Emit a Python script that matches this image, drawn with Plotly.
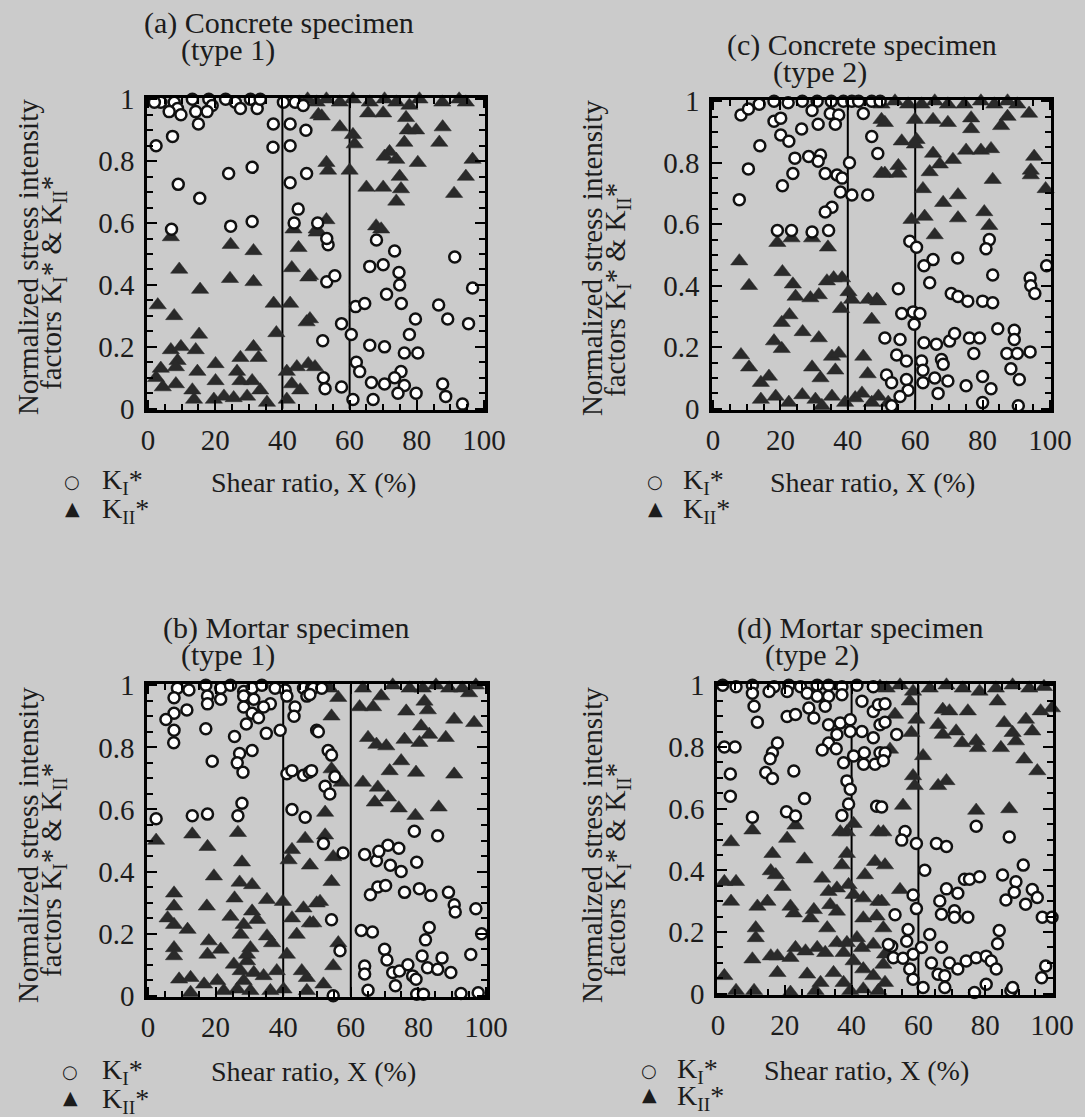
import plotly.graph_objects as go

W, H = 1085, 1117
SERIF = "Liberation Serif"
TXT = "#1c1c1c"
BG = "#cbcbcb"

# ---------------- data (x = shear ratio %, y = normalized SIF) ----------------
# (a) Concrete specimen (type 1)
a_KI = [(3.8,.99),(7.8,.99),(8.8,.97),(6.3,.96),(9.8,.95),(13.2,1.0),(14.2,.96),(18.1,1.0),(19.1,.98),(23.1,1.0),
        (26,.99),(27.5,.97),(30.5,1.0),(32.5,.97),(33.4,1.0),(40.3,.99),(43.8,.99),(46.2,.98),(1.9,.99),(17.6,.96),
        (7.3,.88),(2.4,.85),(15,.92),(24,.76),(31,.78),(9,.725),(15.4,.68),(7,.58),(24.6,.59),(31,.605),
        (37.3,.92),(37.2,.845),(42.3,.92),(42.3,.85),(47,.90),(42.3,.73),(47.2,.76),(44.7,.645),(43.5,.60),(50.5,.60),
        (53.6,.53),(53.2,.55),(53.2,.41),(55.6,.43),(68,.545),(73.4,.51),(66,.46),(70,.465),(74.7,.44),(74.9,.40),
        (71,.37),(75.4,.34),(61.8,.33),(64.5,.34),(57.6,.275),(60.5,.24),(52,.22),(79.6,.29),(77.8,.24),(86.5,.335),
        (89.2,.29),(95.4,.275),(96.6,.39),(91.3,.49),(66,.205),(70.4,.2),(76.3,.18),(80.3,.18),(52.2,.10),(52.7,.065),
        (57.6,.07),(62,.15),(63,.12),(66.5,.085),(70.4,.08),(75.3,.12),(76.3,.075),(74.4,.05),(79.8,.05),(67,.03),
        (61,.03),(87.7,.08),(88.6,.04),(93.6,.015),(73.4,.10)]
a_KII = [(6.8,.555),(9.3,.45),(15.5,.385),(2.9,.335),(7.8,.30),(24.6,.53),(31.4,.51),(24.4,.42),(31.4,.41),(37.4,.34),
         (42.3,.34),(38.2,.245),(47.2,.28),(15.2,.24),(6.8,.19),(9.8,.20),(14.2,.19),(8.8,.155),(3.8,.13),(8.3,.135),
         (14.7,.12),(20.1,.145),(27.5,.165),(31.4,.20),(32.9,.165),(26.5,.12),(2.4,.10),(8.3,.08),(4.4,.07),(13.2,.06),
         (20.1,.09),(27.5,.09),(31,.09),(41.3,.12),(44.3,.135),(47.7,.145),(42.8,.08),(45.3,.06),(13.7,.03),(19.6,.03),
         (22.6,.04),(25.5,.035),(29.5,.04),(33.4,.06),(35.4,.02),(41.3,.03),(43.3,.58),(50.2,.58),(44.8,.52),(42.8,.455),
         (47.7,.425),(50.7,.95),(45,.99),(47.5,1.0),
         (50.2,.99),(53.1,1.0),(57.1,.99),(61,1.0),(66,.99),(70.4,1.0),(73.9,.99),(77.8,.98),(80.8,1.0),(87.6,.99),
         (92.6,1.0),(94.6,.99),(51.7,.945),(57.1,.91),(65.5,.955),(70,.955),(61,.885),(61.5,.855),(76.8,.94),(77.3,.90),
         (76.3,.86),(79.8,.90),(71.9,.83),(73.9,.805),(70.4,.815),(80.3,.795),(87.7,.91),(86.7,.86),(53.1,.795),(53.6,.77),
         (60,.77),(65,.715),(70,.715),(74.9,.75),(75.3,.71),(73.9,.67),(91.1,.695),(94.6,.75),(96.6,.805),(53.1,.61),
         (50.2,.57),(67.9,.59),(69.4,.58),(49.7,.135),(48.2,.43),(48.2,.29)]

# (c) Concrete specimen (type 2)
c_KI = [(8.3,.955),(10.5,.975),(13.7,.99),(18.1,1.0),(22.3,.995),(26.5,1.0),(30.9,1.0),(35.1,1.0),(38.7,1.0),(41.2,1.0),
        (43.2,1.0),(47.1,1.0),(49.6,1.0),(18.1,.935),(20.1,.945),(29.4,.97),(34.8,.96),(37.3,.955),(36.3,.925),(31.2,.925),
        (26.3,.91),(44.6,.96),(20.1,.89),(22.5,.87),(13.9,.855),(47.1,.885),(48.9,.83),(10.5,.78),(7.8,.68),(24.3,.815),
        (28.4,.82),(31.9,.825),(31.2,.805),(23.7,.765),(20.6,.725),(33.3,.765),(36.8,.76),(38.3,.75),(40.5,.8),(37.8,.705),
        (41.2,.695),(45.9,.695),(35.3,.655),(33.3,.64),(19.1,.58),(23.3,.58),(29.4,.575),(34.3,.58),
        (58.4,.545),(60.4,.525),(65.3,.485),(62.6,.465),(64.3,.41),(72.6,.49),(82,.55),(81,.52),(83,.435),(55,.39),
        (70.7,.375),(72.7,.365),(75.6,.35),(80,.35),(83,.345),(94.1,.425),(94.3,.40),(95.5,.375),(99,.465),(56,.31),
        (59.4,.315),(61.4,.31),(59.7,.275),(51,.23),(55.5,.225),(62.6,.215),(66.3,.21),(70.2,.22),(71.7,.245),(76.1,.23),
        (79.1,.23),(84.5,.26),(89.4,.255),(89.4,.225),(87.2,.18),(90.3,.18),(94.1,.185),(77.4,.18),(54.5,.175),(57.4,.155),
        (61.9,.155),(67.8,.16),(68.3,.145),(88.4,.13),(90.9,.095),(51.5,.11),(53,.085),(57.4,.095),(62.3,.125),(65.8,.10),
        (69.7,.09),(62.3,.085),(80,.105),(75.1,.075),(82.5,.065),(57.9,.06),(66.8,.05),(55.5,.04),(53,.01),(80,.02),(90.6,.01)]
c_KII = [(19.1,.54),(23.3,.555),(29.4,.555),(34.1,.525),(7.8,.48),(20.6,.445),(10.7,.40),(23.7,.405),(24.5,.365),(28.9,.36),
         (31.4,.37),(33.8,.415),(35.8,.425),(38.3,.425),(40.2,.38),(41.2,.355),(38,.325),(22.7,.305),(20.4,.28),(26.6,.25),
         (31.4,.23),(18.1,.22),(20.4,.195),(8.3,.175),(10.7,.135),(16.6,.105),(14.2,.085),(29.4,.135),(31.9,.10),(35.3,.17),
         (37.3,.18),(36.3,.125),(47.1,.29),(46.1,.355),(48.6,.355),(44.6,.17),(45.9,.113),
         (14.2,.03),(18.6,.04),(22.5,.02),(26.5,.045),(30.4,.03),(32.3,.01),(35.3,.04),(39.2,.02),(42.2,.035),(44.2,.05),
         (47.1,.02),(49.1,.04),(52,.02),(50,.94),(50,.765),
         (50,.99),(54,1.0),(57.9,.99),(61.9,.99),(65.8,1.0),(69.7,.99),(74.6,.99),(79.5,1.0),(83.5,.99),(87.4,1.0),(90.3,.99),
         (51,.93),(59.9,.94),(65.3,.94),(69.7,.93),(76.6,.945),(76.6,.91),(85.5,.92),(87.4,.95),(93.8,.96),(56,.87),
         (60.4,.875),(59.9,.86),(65.3,.83),(67.3,.795),(71.2,.81),(75.1,.84),(79.5,.84),(82.5,.845),(55,.79),(51,.765),
         (55,.765),(64.3,.77),(83,.745),(95.3,.82),(94.3,.775),(94.3,.76),(98.7,.715),(62.3,.715),(72.7,.695),(68.3,.67),
         (58.9,.615),(62.8,.625),(72.7,.62),(80.5,.64),(82,.595),(65.8,.565),(49,.35)]

# (b) Mortar specimen (type 1)
b_KI = [(8.7,.99),(12.1,.985),(17.1,1.0),(21.5,.99),(24.4,1.0),(28.3,.98),(30.8,.99),(33.7,1.0),(37.6,.99),(40.6,.985),
        (7.7,.96),(17.6,.965),(21.5,.955),(17.6,.94),(28.3,.965),(31.3,.955),(36.2,.94),(28.3,.93),(30.8,.91),(34.2,.93),
        (32.7,.895),(29.1,.875),(7.7,.91),(11.5,.92),(5.3,.89),(7.7,.855),(7.6,.815),(17.1,.86),(25.6,.835),(35,.845),
        (39.1,.855),(30.8,.79),(27.1,.78),(19,.755),(26.4,.75),(28.1,.72),(41.1,.965),(43.5,.93),(43.2,.90),(46,.99),
        (48.4,.99),(47,.965),(49.9,.855),(2.4,.57),(13.1,.58),(17.6,.585),(27.8,.62),(26.6,.58),(41.1,.715),(42.6,.725),
        (46,.71),(47.7,.72),(42.6,.60),(46.5,.575),
        (48.9,.99),(51.4,.99),(47.9,.97),(50.4,.85),(53.3,.79),(54.3,.775),(48.4,.725),(52.4,.675),(53.8,.65),(55.3,.705),
        (57.7,.46),(51.9,.49),(54.3,.245),(56.8,.145),(54.8,.0),(78.8,.53),(85.7,.515),(64.1,.455),(67.6,.435),(71,.485),
        (74.2,.475),(68.3,.465),(71.7,.42),(74.9,.40),(79.5,.43),(68,.35),(70.3,.355),(65.8,.325),(75.9,.333),(80.3,.345),
        (83.7,.323),(88.9,.333),(90.6,.293),(90.9,.27),(97,.28),(98.7,.20),(63.1,.21),(66.4,.205),(83.2,.22),(82.1,.18),
        (70,.15),(70.7,.115),(81.1,.128),(87,.122),(95.5,.133),(64.1,.096),(64.1,.07),(72.4,.075),(74.4,.08),(76.9,.10),
        (78.3,.064),(79.3,.053),(82.7,.09),(85.7,.085),(89.6,.075),(73.2,.032),(65.1,.018),(79.5,.005),(81.5,.005),(92.6,.007),
        (97.7,.01)]
b_KII = [(2.4,.50),(13.1,.52),(26.6,.525),(17.6,.48),(27.8,.43),(19.5,.385),(27.1,.365),(30.8,.357),(7.7,.33),(7.7,.288),
         (17.4,.288),(25.6,.314),(35.2,.309),(39.9,.303),(42.6,.47),(41.6,.437),(46.5,.506),(47.9,.42),(49.9,.298),(46,.282),
         (5.8,.25),(7.7,.229),(11.7,.213),(24.4,.255),(28.3,.229),(30.8,.272),(32.3,.245),(35.2,.192),(27.4,.197),(42.6,.25),
         (44,.197),(47.9,.234),(7.7,.154),(7.7,.128),(18,.176),(17.6,.133),(21.5,.149),(36.7,.17),(30.3,.154),(25.4,.101),
         (29.3,.112),(41.1,.133),(45.5,.08),(47,.058),(9.2,.053),(12.6,.058),(16.6,.037),(20.5,.048),(27.4,.08),(31.3,.074),
         (34.2,.064),(38.1,.08),(12.6,.01),(22.4,.016),(26.4,.021),(30.3,.016),(36.2,.016),(40.1,.021),(47,.016),(29.3,.133),
         (28.3,.048),
         (53.8,.99),(63.6,.99),(72.4,1.0),(77.4,.99),(81.3,.99),(85.2,1.0),(89.1,.99),(93,.99),(97,1.0),
         (56.3,.96),(54.3,.90),(62.6,.93),(66.6,.93),(69,.965),(76.4,.916),(81.8,.948),(82.8,.92),(90.6,.89),(96.5,.879),
         (95,.975),(80.8,.868),(83.2,.841),(88.1,.831),(65.1,.831),(67.6,.809),(70.5,.804),(75.9,.825),(80.3,.815),(74.9,.756),
         (71.5,.724),(79.3,.719),(90.6,.713),(63.6,.687),(68,.671),(71,.639),(67.1,.623),(74.2,.604),(79.1,.58),(86,.607),
         (54.3,.73),(57.3,.687),(52.4,.59),(52.4,.517),(54.8,.447),(54.3,.367),(50.9,.303),(48.9,.234),(56.3,.17),(54.8,.096),
         (51.9,.037)]

# (d) Mortar specimen (type 2)
d_KI = [(1.4,1.0),(5.4,.995),(10.3,1.0),(16.8,.995),(21.2,1.0),(24.7,.995),(29.7,1.0),(33.1,1.0),(37.1,.995),(41.6,1.0),
        (46.5,.995),(10.3,.974),(15.3,.98),(20.7,.98),(26.7,.974),(29.7,.964),(33.1,.964),(37.1,.969),(10.8,.932),(11.8,.88),
        (20.7,.899),(23.2,.905),(27.2,.926),(28.7,.894),(32.1,.932),(33.1,.872),(35.6,.84),(36.6,.878),(33.1,.813),(31.2,.79),
        (35.4,.794),(39.6,.888),(39.6,.85),(43.1,.948),(43.1,.85),(46.5,.915),(48,.937),(48.5,.872),(46.5,.83),(37.6,.749),
        (40.6,.771),(43.8,.781),(43.6,.744),(47,.744),(48.5,.781),(1.9,.80),(5.1,.80),(17.8,.813),(16.3,.781),(15.6,.762),
        (14.3,.717),(16.3,.698),(22.7,.722),(3.7,.712),(3.7,.64),(25.9,.633),(20.5,.59),(23.2,.576),(10.3,.572),(38.6,.69),
        (39.6,.663),(39.1,.615),(37.1,.578),(47.5,.608),(50,.94),(50,.88),(50,.78),
        (53.5,.84),(49.5,.755),(49,.605),(56,.526),(55,.498),(59.4,.487),(65.4,.487),(68.4,.477),(77.3,.543),(87.2,.508),
        (61.9,.40),(73.8,.371),(75.3,.371),(78.3,.379),(85.2,.385),(91.4,.417),(89.2,.363),(88.7,.329),(86.2,.304),(94.1,.338),
        (95.6,.312),(92.1,.29),(97.1,.248),(100,.248),(68.4,.34),(71.8,.326),(66.4,.301),(66.9,.258),(70.8,.269),(70.8,.248),
        (74.8,.248),(58.4,.32),(59.4,.276),(53,.256),(56.9,.208),(63.4,.192),(56.5,.17),(52,.154),(60.9,.15),(66.9,.151),
        (84.2,.205),(83.7,.162),(52.5,.117),(55.4,.115),(58.4,.128),(63.9,.10),(69.3,.10),(74.3,.106),(77.3,.117),(80.3,.122),
        (81.8,.106),(83.3,.08),(71.8,.08),(57.4,.08),(65.9,.063),(67.9,.058),(58.4,.047),(61.4,.02),(67.9,.02),(76.8,.004),
        (80.3,.031),(87.7,.01),(88.2,.02),(98.1,.09),(96.9,.052),(51,.16)]
d_KII = [(10.3,.53),(23.2,.546),(20.7,.503),(3.9,.492),(16.3,.454),(25.9,.436),(15.8,.398),(17.3,.385),(19.3,.347),(1.9,.363),
         (5.4,.363),(3.9,.299),(11.8,.283),(14.8,.299),(21.7,.283),(22.7,.261),(27.7,.245),(28.7,.272),(31.2,.374),(33.1,.331),
         (35.6,.342),(37.1,.417),(38.6,.454),(38.6,.524),(36.6,.524),(40.6,.551),(39.1,.353),(40.6,.321),(33.6,.288),(35.6,.267),
         (44,.385),(47,.428),(48,.524),(43.5,.31),(48,.299),(43.5,.245),(47.5,.251),(32.7,.213),(11.3,.213),(11.3,.181),
         (23.2,.149),(15.8,.122),(17.8,.122),(21.7,.117),(26.2,.138),(29.7,.149),(32.1,.133),(35.6,.165),(38.6,.165),(37.6,.133),
         (41.6,.181),(43.1,.149),(46.5,.16),(40.6,.106),(10.3,.112),(1.9,.058),(17.8,.068),(26.7,.063),(30.7,.036),(34.6,.068),
         (37.6,.036),(43.5,.08),(46.5,.058),(49.5,.095),(5.4,.01),(10.8,.01),(21.7,.004),(29.2,.01),(39.6,.01),(43.5,.015),
         (48,.01),(48.5,.996),
         (50.5,.99),(54.5,1.0),(58.4,.98),(63.4,.99),(68.4,1.0),(73.3,.99),(78.3,.98),(83.2,.99),(88.2,1.0),(93.2,.99),(97.6,.995),
         (57.4,.948),(67.3,.921),(69.3,.916),(74.8,.916),(83.7,.948),(96.6,.916),(100,.926),(53,.905),(59.4,.889),(65.9,.872),
         (85.7,.878),(92.2,.889),(57.9,.846),(71.3,.851),(67.3,.84),(88.2,.846),(94.1,.851),(73.1,.813),(77.3,.819),(77.8,.797),
         (84.7,.797),(89.2,.819),(51.5,.792),(61.4,.771),(91.7,.76),(95.6,.722),(58.4,.706),(58.9,.674),(65.9,.674),(68.4,.69),
         (55.4,.61),(77.3,.594),(87.2,.599),(49.5,.524),(50,.417),(54.5,.337),(49,.299),(49.5,.213),(50,.128),(50,.036)]

divider_x = [40, 60]
x_ticks = [0, 20, 40, 60, 80, 100]
y_ticks = [0, 0.2, 0.4, 0.6, 0.8, 1]

# ---------------- layout geometry (pixels) ----------------
panels = [
    dict(KI=a_KI, KII=a_KII, box=(147, 98, 485, 410),
         title="(a) Concrete specimen", title_xy=(279, 23), sub="(type 1)", sub_xy=(228, 50),
         ylab_x=(28, 53), ylab_y=(257, 283), xlab_xy=(313, 482), leg_x=72, leg_text_x=100, leg_y=(481, 508)),
    dict(KI=c_KI, KII=c_KII, box=(712, 100, 1051, 410),
         title="(c) Concrete specimen", title_xy=(862, 45), sub="(type 2)", sub_xy=(820, 72),
         ylab_x=(592, 617), ylab_y=(258, 290), xlab_xy=(872, 482), leg_x=655, leg_text_x=681, leg_y=(481, 508)),
    dict(KI=b_KI, KII=b_KII, box=(147, 684, 487, 997),
         title="(b) Mortar specimen", title_xy=(286, 628), sub="(type 1)", sub_xy=(228, 655),
         ylab_x=(28, 53), ylab_y=(845, 870), xlab_xy=(313, 1071), leg_x=70, leg_text_x=100, leg_y=(1071, 1097)),
    dict(KI=d_KI, KII=d_KII, box=(717, 684, 1053, 995),
         title="(d) Mortar specimen", title_xy=(860, 628), sub="(type 2)", sub_xy=(812, 655),
         ylab_x=(592, 617), ylab_y=(845, 870), xlab_xy=(866, 1070), leg_x=649, leg_text_x=675, leg_y=(1070, 1094)),
]


def ann(text, px, py, size=28, angle=0, xanchor="center", family=SERIF):
    return dict(text=text, x=px / W, y=1 - py / H, xref="paper", yref="paper",
                showarrow=False, textangle=angle, xanchor=xanchor, yanchor="middle",
                font=dict(family=family, size=size, color=TXT))


fig = go.Figure()
annotations = []
shapes = []
layout_axes = {}

for i, p in enumerate(panels, start=1):
    sfx = "" if i == 1 else str(i)
    xa, ya = "x" + sfx, "y" + sfx
    l, t, r, b = p["box"]
    common = dict(showline=True, linecolor="black", linewidth=2.5, mirror="ticks",
                  ticks="inside", ticklen=10, tickwidth=2, tickcolor="black",
                  showgrid=False, zeroline=False, fixedrange=True, automargin=False,
                  tickfont=dict(family=SERIF, size=29, color=TXT))
    layout_axes["xaxis" + sfx] = dict(common, domain=[l / W, r / W], anchor=ya, range=[-0.3, 100.3],
                                      tickvals=x_ticks, ticklabelstandoff=2,
                                      minor=dict(ticks="inside", ticklen=6, tickwidth=1.5, tickcolor="black", dtick=5, tick0=0))
    layout_axes["yaxis" + sfx] = dict(common, domain=[1 - b / H, 1 - t / H], anchor=xa, range=[-0.004, 1.004],
                                      tickvals=y_ticks, ticklabelstandoff=4,
                                      minor=dict(ticks="inside", ticklen=6, tickwidth=1.5, tickcolor="black", dtick=0.05, tick0=0))

    kx, ky = zip(*p["KI"])
    tx, ty = zip(*p["KII"])
    fig.add_trace(go.Scatter(x=tx, y=ty, xaxis=xa, yaxis=ya, mode="markers", cliponaxis=False,
                             marker=dict(symbol="triangle-up", size=15, color="#2a2a2a",
                                         line=dict(width=0.5, color="#2a2a2a")),
                             showlegend=False, hoverinfo="skip"))
    fig.add_trace(go.Scatter(x=kx, y=ky, xaxis=xa, yaxis=ya, mode="markers", cliponaxis=False,
                             marker=dict(symbol="circle", size=11, color="white",
                                         line=dict(width=2.5, color="#111111")),
                             showlegend=False, hoverinfo="skip"))

    for v in divider_x:
        shapes.append(dict(type="line", xref=xa, yref=ya, x0=v, x1=v, y0=0, y1=1, layer="below",
                           line=dict(color="black", width=2)))

    annotations.append(ann(p["title"], *p["title_xy"], size=30))
    annotations.append(ann(p["sub"], *p["sub_xy"], size=30))
    annotations.append(ann("Normalized stress intensity", p["ylab_x"][0], p["ylab_y"][0], size=29, angle=-90))
    annotations.append(ann("factors K<sub>I</sub>* &amp; K<sub>II</sub>*", p["ylab_x"][1], p["ylab_y"][1], size=29, angle=-90))
    annotations.append(ann("Shear ratio, X (%)", *p["xlab_xy"]))
    annotations.append(ann("○", p["leg_x"], p["leg_y"][0], size=18, family="DejaVu Sans"))
    annotations.append(ann("▲", p["leg_x"], p["leg_y"][1], size=19, family="DejaVu Sans"))
    annotations.append(ann("K<sub>I</sub>*", p["leg_text_x"], p["leg_y"][0], xanchor="left"))
    annotations.append(ann("K<sub>II</sub>*", p["leg_text_x"], p["leg_y"][1] + 3, xanchor="left"))

fig.update_layout(width=W, height=H, margin=dict(l=0, r=0, t=0, b=0, autoexpand=False),
                  paper_bgcolor=BG, plot_bgcolor=BG,
                  annotations=annotations, shapes=shapes, showlegend=False, **layout_axes)

fig.write_html("out.html", config={"displayModeBar": False},
               post_script="document.body.style.margin='0';")
